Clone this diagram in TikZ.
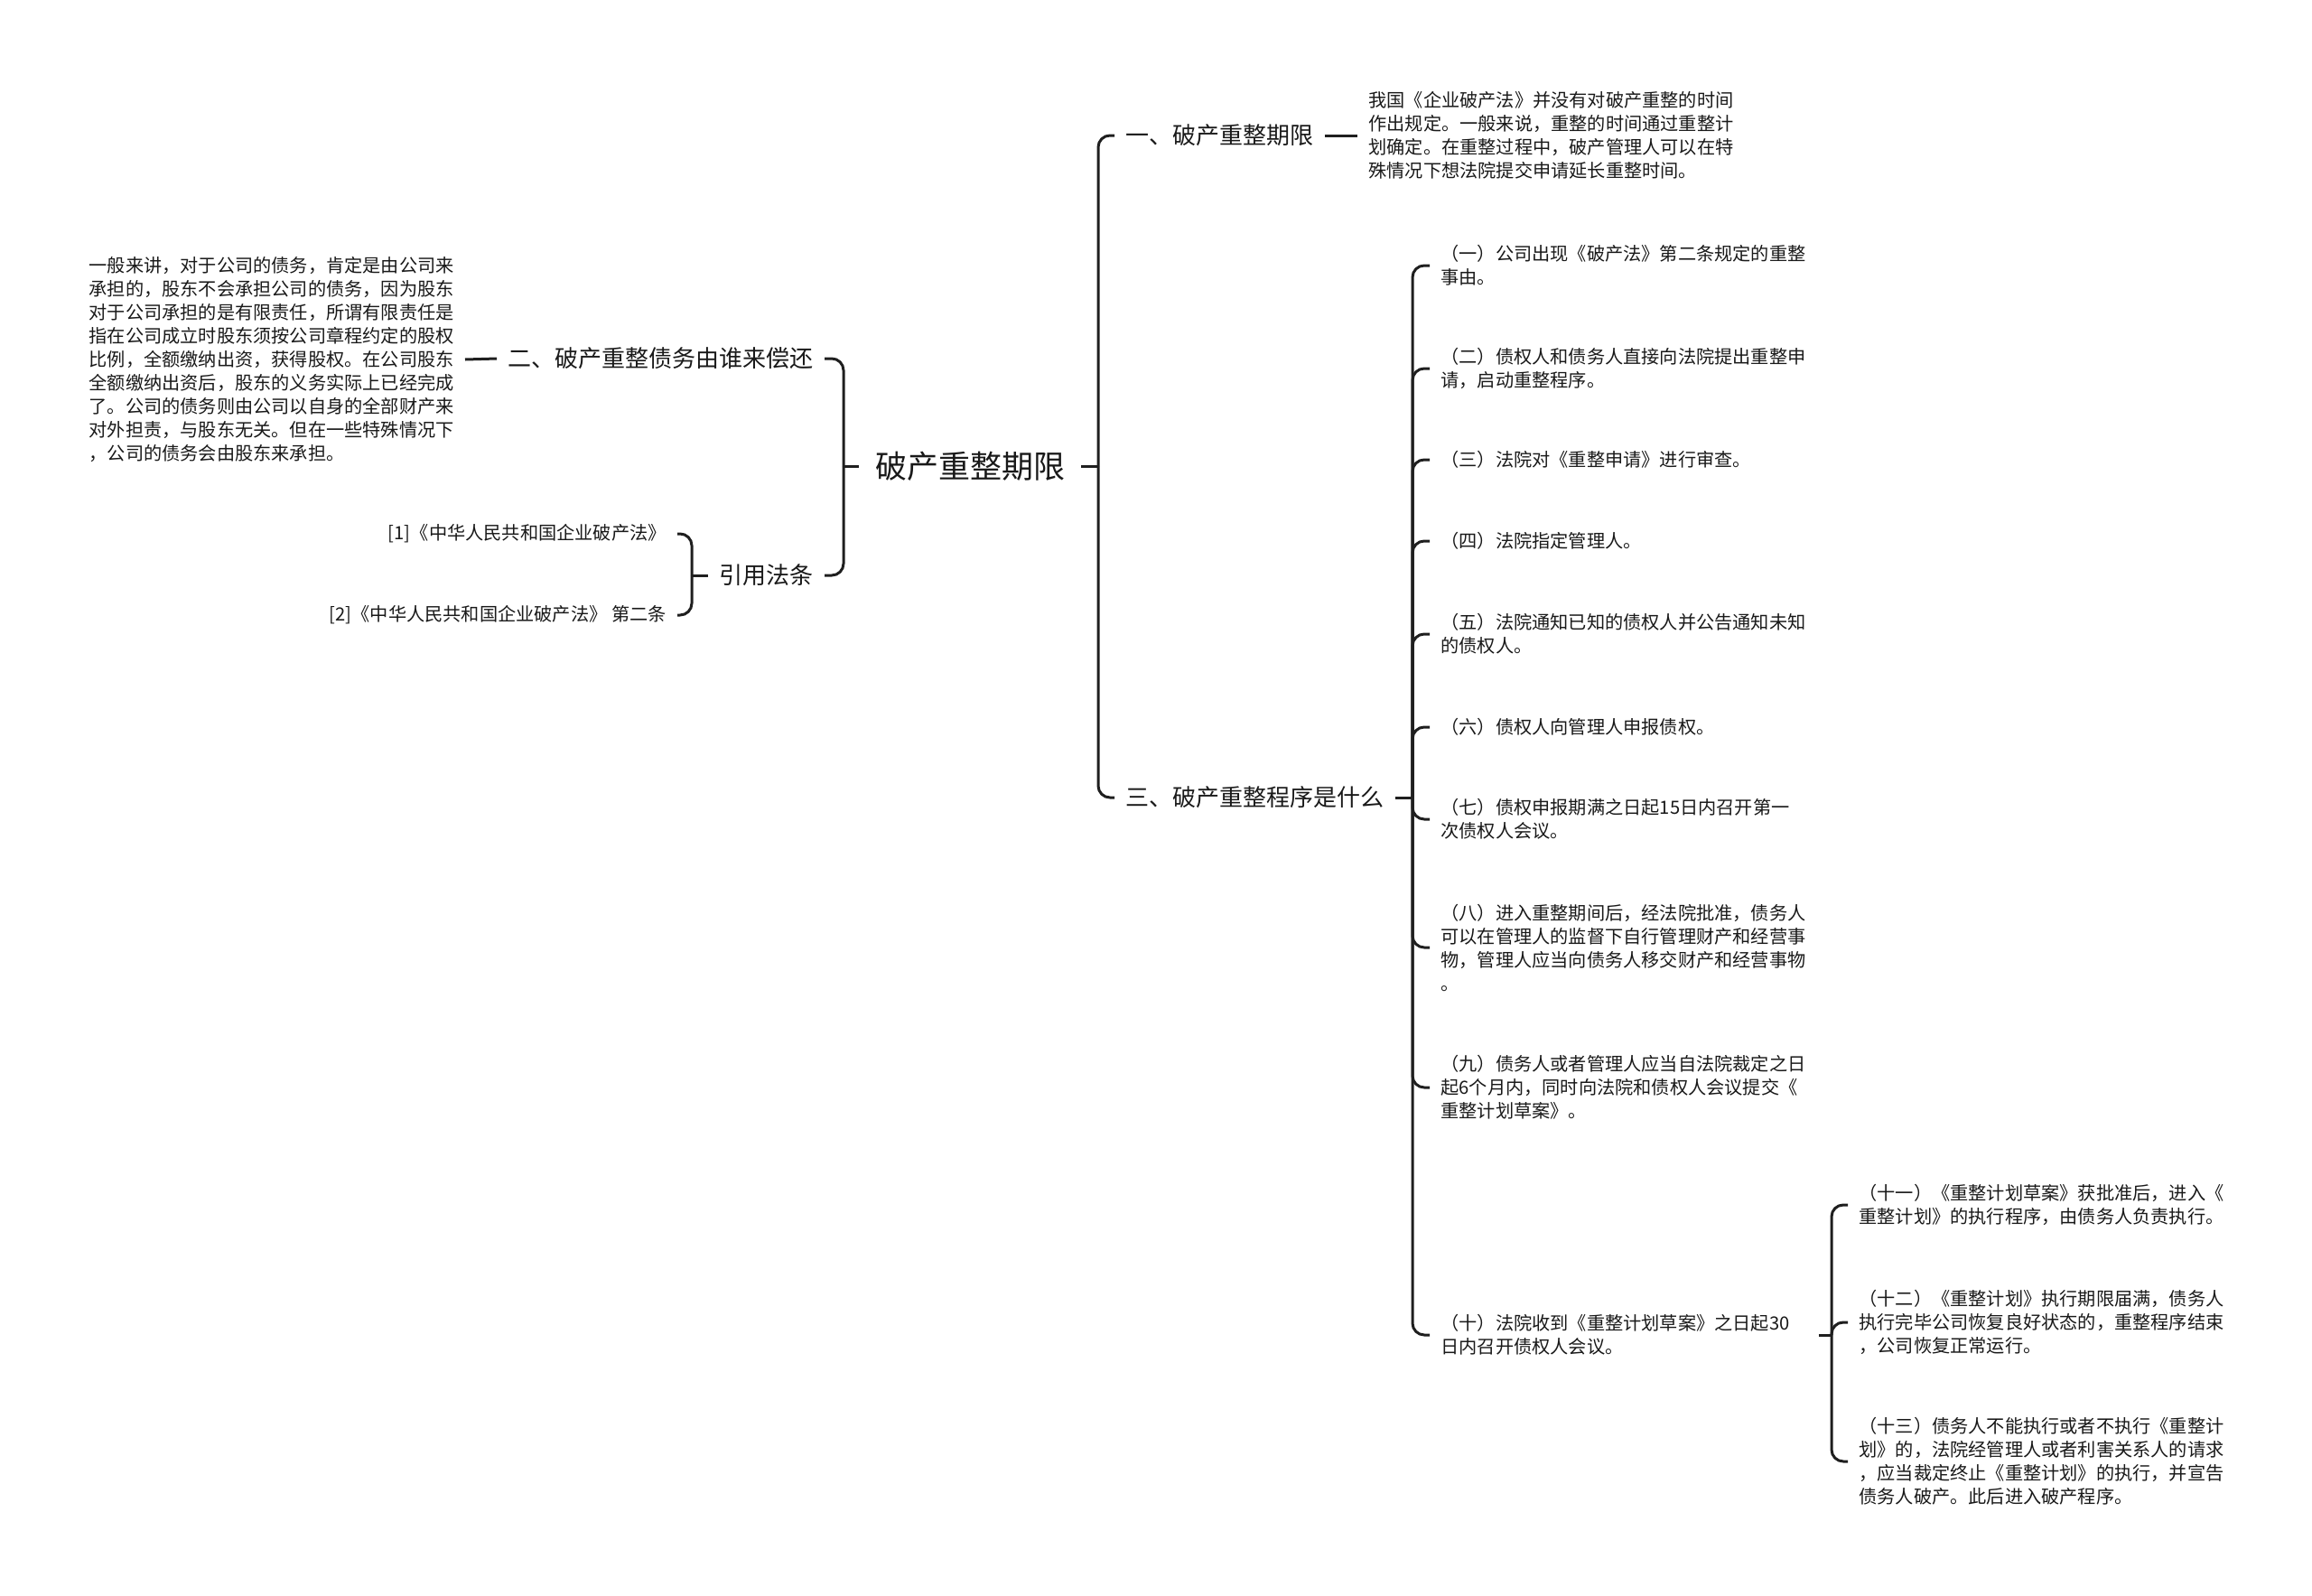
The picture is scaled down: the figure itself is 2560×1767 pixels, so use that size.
\documentclass[tikz,border=0pt]{standalone}
\usepackage{fontspec}
\setmainfont{Noto Sans CJK SC}
\begin{document}
\begin{tikzpicture}[x=0.5pt,y=-0.5pt,text=black!90,
  link/.style={line width=1.5pt,draw=black!88},
  fork/.style={link,rounded corners=6.5pt},
  rootbox/.style={font=\fontsize{17.5pt}{21pt}\selectfont,inner xsep=9pt},
  topicbox/.style={font=\fontsize{13pt}{16pt}\selectfont,inner xsep=6pt},
  leafbox/.style={font=\fontsize{10.1pt}{13pt}\selectfont,align=left,inner xsep=6pt,inner ysep=2pt}]
 \useasboundingbox (0,0) rectangle (2560,1767);
 % centre
 \node[rootbox] (core) at (1074,516) {破产重整期限};
 % right side
 \node[topicbox,anchor=west] (term) at (1234,150) {一、破产重整期限};
 \node[leafbox,anchor=west] (termtxt) at (1503,150) {我国《企业破产法》并没有对破产重整的时间\\作出规定。一般来说，重整的时间通过重整计\\划确定。在重整过程中，破产管理人可以在特\\殊情况下想法院提交申请延长重整时间。};
 \node[topicbox,anchor=west] (proc) at (1234,883) {三、破产重整程序是什么};
 \node[leafbox,anchor=west] (s1) at (1583,294) {（一）公司出现《破产法》第二条规定的重整\\事由。};
 \node[leafbox,anchor=west] (s2) at (1583,408) {（二）债权人和债务人直接向法院提出重整申\\请，启动重整程序。};
 \node[leafbox,anchor=west] (s3) at (1583,509) {（三）法院对《重整申请》进行审查。};
 \node[leafbox,anchor=west] (s4) at (1583,599) {（四）法院指定管理人。};
 \node[leafbox,anchor=west] (s5) at (1583,702) {（五）法院通知已知的债权人并公告通知未知\\的债权人。};
 \node[leafbox,anchor=west] (s6) at (1583,805) {（六）债权人向管理人申报债权。};
 \node[leafbox,anchor=west] (s7) at (1583,907) {（七）债权申报期满之日起15日内召开第一\\次债权人会议。};
 \node[leafbox,anchor=west] (s8) at (1583,1049) {（八）进入重整期间后，经法院批准，债务人\\可以在管理人的监督下自行管理财产和经营事\\物，管理人应当向债务人移交财产和经营事物\\。};
 \node[leafbox,anchor=west] (s9) at (1583,1204) {（九）债务人或者管理人应当自法院裁定之日\\起6个月内，同时向法院和债权人会议提交《\\重整计划草案》。};
 \node[leafbox,anchor=west] (s10) at (1583,1478) {（十）法院收到《重整计划草案》之日起30\\日内召开债权人会议。};
 \node[leafbox,anchor=west] (s11) at (2046,1334) {（十一）《重整计划草案》获批准后，进入《\\重整计划》的执行程序，由债务人负责执行。};
 \node[leafbox,anchor=west] (s12) at (2046,1464) {（十二）《重整计划》执行期限届满，债务人\\执行完毕公司恢复良好状态的，重整程序结束\\，公司恢复正常运行。};
 \node[leafbox,anchor=west] (s13) at (2046,1618) {（十三）债务人不能执行或者不执行《重整计\\划》的，法院经管理人或者利害关系人的请求\\，应当裁定终止《重整计划》的执行，并宣告\\债务人破产。此后进入破产程序。};
 % left side
 \node[topicbox,anchor=east] (debt) at (913,397) {二、破产重整债务由谁来偿还};
 \node[leafbox,anchor=east] (debttxt) at (515,398) {一般来讲，对于公司的债务，肯定是由公司来\\承担的，股东不会承担公司的债务，因为股东\\对于公司承担的是有限责任，所谓有限责任是\\指在公司成立时股东须按公司章程约定的股权\\比例，全额缴纳出资，获得股权。在公司股东\\全额缴纳出资后，股东的义务实际上已经完成\\了。公司的债务则由公司以自身的全部财产来\\对外担责，与股东无关。但在一些特殊情况下\\，公司的债务会由股东来承担。};
 \node[topicbox,anchor=east] (law) at (913,637) {引用法条};
 \node[leafbox,anchor=east] (law1) at (750,591) {[1]《中华人民共和国企业破产法》};
 \node[leafbox,anchor=east] (law2) at (750,681) {[2]《中华人民共和国企业破产法》 第二条};
 % junctions
 \coordinate (jr) at (1216,516);
 \coordinate (jl) at (934,516);
 \coordinate (jp) at (1564,883);
 \coordinate (jt) at (2028,1478);
 \coordinate (jc) at (766,637);
 % connectors
 \draw[link] (core.east) -- (jr);
 \draw[fork] (jr) |- (term.west);
 \draw[fork] (jr) |- (proc.west);
 \draw[link] (term.east) -- (termtxt.west);
 \draw[link] (proc.east) -- (jp);
 \foreach \n in {s1,s2,s3,s4,s5,s6,s7,s8,s9,s10}
  \draw[fork] (jp) |- (\n.west);
 \draw[link,shorten <=10pt] (s10.east) -- (jt);
 \foreach \n in {s11,s12,s13}
  \draw[fork] (jt) |- (\n.west);
 \draw[link] (core.west) -- (jl);
 \draw[fork] (jl) |- (debt.east);
 \draw[fork] (jl) |- (law.east);
 \draw[link] (debt.west) -- (debttxt.east);
 \draw[link] (law.west) -- (jc);
 \draw[fork] (jc) |- (law1.east);
 \draw[fork] (jc) |- (law2.east);
\end{tikzpicture}
\end{document}
